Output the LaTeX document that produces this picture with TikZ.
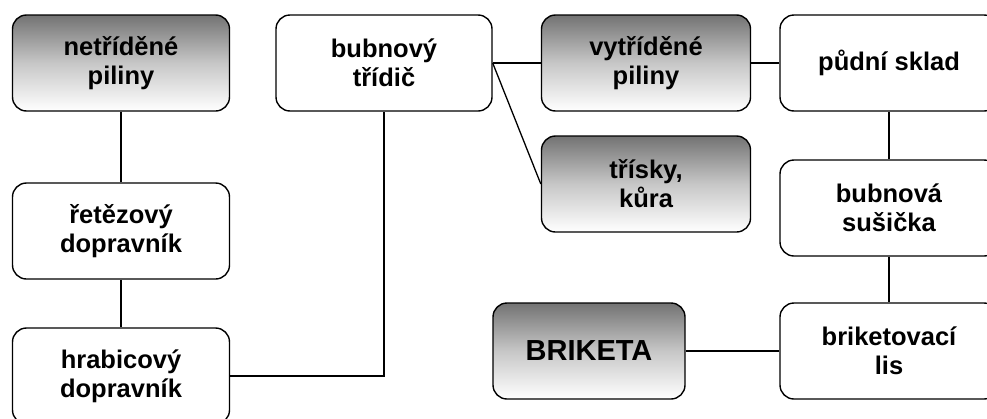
\documentclass[tikz,border=0pt]{standalone}
\usepackage{fontspec}
\setmainfont{Liberation Sans}
\usetikzlibrary{positioning}

\begin{document}
\begin{tikzpicture}[x=1pt, y=-1pt,
    every node/.style={font=\bfseries\fontsize{25.5}{29}\selectfont},
    box/.style={draw, line width=1.4pt, rounded corners=14pt, align=center,
      minimum width=217pt, minimum height=96pt, fill=white},
    shaded box/.style={box, top color=black!55, bottom color=white, middle color=black!22},
    link/.style={line width=1.3pt}]
  \clip (0,0) rectangle (987,418);
  % left column
  \node[shaded box] (raw) at (121,63) {netříděné\\piliny};
  \node[box] (chain) at (121,231) {řetězový\\dopravník};
  \node[box] (rake) at (121,376) {hrabicový\\dopravník};
  % sorter and its products
  \node[box, minimum width=216pt] (sorter) at (384,63) {bubnový\\třídič};
  \node[shaded box, minimum width=209pt] (sorted) at (646,63) {vytříděné\\piliny};
  \node[shaded box, minimum width=209pt] (chips) at (646,184) {třísky,\\kůra};
  % right column
  \node[box, minimum width=218pt] (store) at (889,63) {půdní sklad};
  \node[box, minimum width=218pt] (dryer) at (889,208) {bubnová\\sušička};
  \node[box, minimum width=218pt] (press) at (889,351) {briketovací\\lis};
  \node[shaded box, minimum width=192pt, font=\bfseries\fontsize{29}{34}\selectfont] (brick) at (589,351) {BRIKETA};
  % connections
  \draw[link] (raw) -- (chain);
  \draw[link] (chain) -- (rake);
  \draw[link] (rake.east) -| (sorter.south);
  \draw[link] (sorter.east) -- (sorted.west);
  \draw[link] (sorter.east) -- (chips.west);
  \draw[link] (sorted.east) -- (store.west);
  \draw[link] (store) -- (dryer);
  \draw[link] (dryer) -- (press);
  \draw[link] (press) -- (brick);
\end{tikzpicture}
\end{document}
